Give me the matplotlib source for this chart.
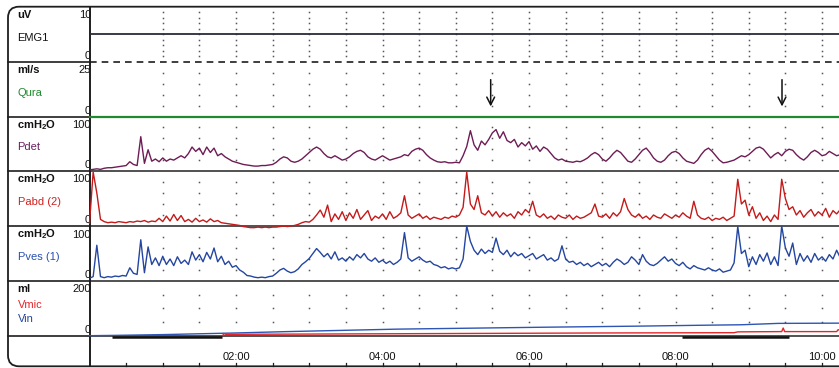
import numpy as np
import matplotlib
matplotlib.use("Agg")
import matplotlib.pyplot as plt
from matplotlib.patches import FancyBboxPatch

plt.rcParams['font.family'] = ['Liberation Sans', 'DejaVu Sans']
plt.rcParams['mathtext.fontset'] = 'custom'
plt.rcParams['mathtext.rm'] = 'Liberation Sans'
plt.rcParams['mathtext.bf'] = 'Liberation Sans:bold'

# ---------------- recorded channels (time in minutes) ----------------
SAMPLE_MIN = 0.05  # pressure traces sampled every 3 s

pdet = [
    2, 3, 4, 3, 5, 6, 6, 7, 8, 9,
    10, 17, 12, 10, 63, 14, 39, 18, 22, 17,
    24, 18, 22, 20, 24, 28, 24, 32, 44, 36,
    42, 30, 44, 34, 42, 28, 32, 26, 22, 18,
    16, 14, 12, 11, 10, 9, 9, 10, 10, 11,
    12, 16, 22, 26, 24, 18, 16, 18, 22, 28,
    34, 40, 44, 40, 32, 26, 24, 28, 24, 20,
    22, 26, 32, 36, 38, 34, 26, 22, 20, 24,
    28, 24, 20, 22, 24, 26, 30, 28, 36, 40,
    42, 38, 30, 24, 20, 17, 16, 17, 15, 15,
    16, 15, 28, 45, 74, 48, 38, 55, 48, 58,
    70, 76, 60, 72, 56, 52, 58, 44, 52, 46,
    54, 40, 46, 36, 44, 40, 32, 24, 20, 22,
    18, 17, 16, 18, 17, 20, 24, 30, 34, 30,
    22, 18, 24, 32, 38, 34, 26, 18, 16, 22,
    30, 38, 42, 34, 24, 18, 16, 20, 28, 34,
    36, 32, 24, 18, 16, 14, 20, 30, 38, 42,
    36, 28, 20, 15, 16, 18, 20, 24, 28, 26,
    30, 36, 42, 44, 40, 32, 24, 30, 34, 28,
    36, 40, 38, 30, 24, 20, 26, 34, 38, 34,
    28, 30, 36, 32, 28, 30,
]

pabd = [
    5, 98, 60, 12, 8, 6, 7, 6, 8, 7,
    6, 8, 7, 9, 8, 10, 7, 9, 8, 14,
    8, 18, 9, 21, 10, 19, 8, 12, 7, 14,
    8, 11, 7, 13, 8, 10, 6, 5, 4, 3,
    2, 1, -1, -2, -3, -3, -2, -3, -2, -3,
    -2, -2, -1, 0, -1, 0, 1, 3, 6, 8,
    7, 12, 20, 29, 16, 38, 8, 22, 12, 26,
    10, 24, 14, 30, 12, 20, 28, 10, 18, 14,
    22, 12, 26, 14, 18, 24, 55, 20, 14, 18,
    22, 14, 18, 12, 16, 14, 12, 16, 14, 18,
    16, 20, 34, 98, 40, 30, 55, 24, 20, 28,
    18, 26, 16, 24, 18, 22, 14, 26, 20, 30,
    24, 45, 20, 16, 22, 14, 18, 12, 20, 16,
    14, 20, 12, 18, 14, 16, 20, 24, 40, 18,
    16, 22, 14, 24, 18, 26, 50, 30, 20, 16,
    22, 14, 18, 12, 20, 16, 14, 22, 18, 14,
    20, 16, 24, 18, 14, 45, 20, 14, 12, 16,
    10, 14, 12, 16, 10, 14, 18, 85, 40, 47,
    20, 35, 14, 24, 10, 18, 8, 20, 12, 85,
    50, 30, 35, 20, 28, 16, 24, 30, 18, 26,
    20, 32, 16, 28, 22, 30,
]

pves = [
    5, 8, 65, 8, 6, 8, 7, 9, 8, 10,
    9, 24, 14, 12, 75, 15, 62, 30, 42, 28,
    45, 30, 40, 28, 44, 32, 38, 30, 53, 38,
    48, 35, 52, 40, 60, 35, 45, 30, 36, 25,
    28, 20, 16, 10, 9, 7, 6, 7, 6, 8,
    9, 14, 20, 23, 18, 15, 17, 22, 30, 35,
    41, 50, 59, 52, 44, 50, 40, 53, 38, 42,
    36, 44, 38, 48, 42, 50, 40, 36, 42, 34,
    38, 32, 36, 30, 34, 40, 88, 42, 36, 40,
    44, 38, 34, 36, 30, 28, 24, 26, 22, 24,
    22, 24, 40, 100, 72, 56, 48, 58, 50, 56,
    52, 78, 54, 48, 56, 44, 52, 46, 50, 42,
    46, 50, 40, 44, 48, 38, 42, 36, 40, 64,
    40, 34, 36, 30, 34, 28, 32, 26, 30, 34,
    28, 32, 26, 34, 40, 36, 30, 34, 44, 38,
    30, 48, 36, 30, 28, 32, 38, 44, 36, 40,
    32, 28, 34, 26, 22, 28, 24, 22, 20, 24,
    20, 18, 22, 16, 18, 20, 33, 99, 50, 56,
    26, 44, 30, 48, 36, 51, 30, 44, 28, 100,
    60, 45, 69, 30, 50, 36, 46, 34, 50, 38,
    44, 36, 48, 40, 56, 42,
]

emg_t = [0.0, 10.3]
emg = [5.0, 5.0]

qura_t = [0.0, 10.3]
qura = [0.0, 0.0]

vin_t = [0.0, 0.3, 1.0, 2.0, 2.7, 4.2, 6.2, 7.5, 8.3, 8.9, 9.4, 10.3]
vin = [0, 1, 4, 10, 15, 24, 31, 35, 38, 40, 45, 46]

vmic_t = [1.82, 1.83, 1.86, 3.0, 5.0, 7.0, 8.8, 8.85, 9.45, 9.47, 9.49, 10.2, 10.22, 10.3]
vmic = [0, 8, 5, 6, 8, 10, 11, 14, 15, 28, 15, 15, 22, 15]

# event marker bars along the volume baseline (start, end in minutes)
event_bars = [(0.31, 1.81), (8.09, 9.55)]
# event arrows in the flow channel (minutes)
event_arrows = [5.477, 9.454]

units = ["uV", "ml/s", r"cmH$_\mathbf{2}$O", r"cmH$_\mathbf{2}$O", r"cmH$_\mathbf{2}$O", "ml"]
names = ["EMG1", "Qura", "Pdet", "Pabd (2)", "Pves (1)", None]
name_colors = ["#111111", "#1f8a2e", "#6a1f5e", "#d0201e", "#2a4fb0", None]
full_scale = [10, 25, 100, 100, 100, 200]
grid_divs = [10, 5, 5, 5, 5, 4]
time_labels = ["02:00", "04:00", "06:00", "08:00", "10:00"]
time_label_pos = [2, 4, 6, 8, 10]

# ---------------- layout (pixels) ----------------
W, H = 839, 368
X0 = 89.5
PX_PER_MIN = 73.25
T_MAX = (W - X0) / PX_PER_MIN
edges = [6.7, 61.7, 116.5, 171.0, 226.0, 281.0, 335.7]
BOTTOM = 366.3
FRAME = "#1e1e1e"

fig = plt.figure(figsize=(W / 100, H / 100), dpi=100)
bg = fig.add_axes([0, 0, 1, 1])
bg.set_xlim(0, W)
bg.set_ylim(H, 0)
bg.axis("off")

# outer frame with rounded left corners
bg.add_patch(FancyBboxPatch((8, edges[0]), 1200, BOTTOM - edges[0],
                            boxstyle="round,pad=0,rounding_size=11",
                            fill=False, lw=1.3, ec=FRAME, zorder=5))
bg.plot([X0, X0], [edges[0], BOTTOM], color=FRAME, lw=1.4, zorder=5)

# panel separators
for k, y in enumerate(edges[1:], start=1):
    bg.plot([8, X0], [y, y], color=FRAME, lw=1.2, zorder=5)
    if k == 1:
        bg.plot([X0, W], [y, y], color=FRAME, lw=1.2, ls=(0, (4, 3)), zorder=1)
    elif k != 2:
        bg.plot([X0, W], [y, y], color="#333333", lw=1.2, zorder=1)


def panel(k):
    ax = fig.add_axes([X0 / W, 1 - edges[k + 1] / H, (W - X0) / W,
                       (edges[k + 1] - edges[k]) / H])
    ax.set_xlim(0, T_MAX)
    ax.set_ylim(0, full_scale[k])
    ax.axis("off")
    ax.patch.set_alpha(0)
    # dotted reference grid
    gt = np.arange(1.0, T_MAX, 0.5)
    levels = np.linspace(0, full_scale[k], grid_divs[k] + 1)[1:-1]
    gx, gy = np.meshgrid(gt, levels)
    ax.plot(gx.ravel(), gy.ravel(), ls="none", marker="s", ms=1.1,
            mfc="#555555", mec="none")
    return ax


axes = [panel(k) for k in range(6)]

t_p = np.arange(len(pves)) * SAMPLE_MIN
axes[0].plot(emg_t, emg, color="#2b2b38", lw=1.3)
axes[1].plot(qura_t, qura, color="#1f8a2e", lw=1.6, clip_on=False)
for ta in event_arrows:
    axes[1].annotate("", xy=(ta, 4.6), xytext=(ta, 16.8),
                     arrowprops=dict(arrowstyle="->,head_length=0.55,head_width=0.28",
                                     color="#111111", lw=1.1, shrinkA=0, shrinkB=0))
axes[2].plot(t_p, pdet, color="#6e1c55", lw=1.0)
axes[3].plot(t_p, pabd, color="#c41a1a", lw=1.0, clip_on=False)
axes[4].plot(t_p, pves, color="#2446a0", lw=1.0)
axes[5].plot(vin_t, vin, color="#2d55b5", lw=1.0, clip_on=False)
axes[5].plot(vmic_t, vmic, color="#e3262a", lw=1.0, clip_on=False)
for a, b in event_bars:
    axes[5].plot([a, b], [-3, -3], color="#111111", lw=1.8, clip_on=False,
                 solid_capstyle="butt")

# channel labels and scale values
for k in range(6):
    top, bot = edges[k], edges[k + 1]
    bg.text(17, top + 8.5, units[k], fontsize=8, fontweight="bold",
            ha="left", va="center", color="#111111")
    bg.text(91, top + 8.5, str(full_scale[k]), fontsize=8,
            ha="right", va="center", color="#111111")
    bg.text(91, bot - 6, "0", fontsize=8, ha="right", va="center",
            color="#111111")
    if names[k]:
        bg.text(17.5, top + 31, names[k], fontsize=8, ha="left",
                va="center", color=name_colors[k])
bg.text(17.5, edges[5] + 24, "Vmic", fontsize=8, ha="left", va="center",
        color="#e3262a")
bg.text(17.5, edges[5] + 37.5, "Vin", fontsize=8, ha="left", va="center",
        color="#2446a0")

# time axis along the bottom edge
for tt in np.arange(0.5, T_MAX, 0.5):
    x = X0 + tt * PX_PER_MIN
    bg.plot([x, x], [BOTTOM, BOTTOM - 3], color=FRAME, lw=0.9)
for tt, lab in zip(time_label_pos, time_labels):
    bg.text(X0 + tt * PX_PER_MIN, 357.5, lab, fontsize=8, ha="center",
            va="center", color="#111111")

fig.savefig("out.png", dpi=100)
